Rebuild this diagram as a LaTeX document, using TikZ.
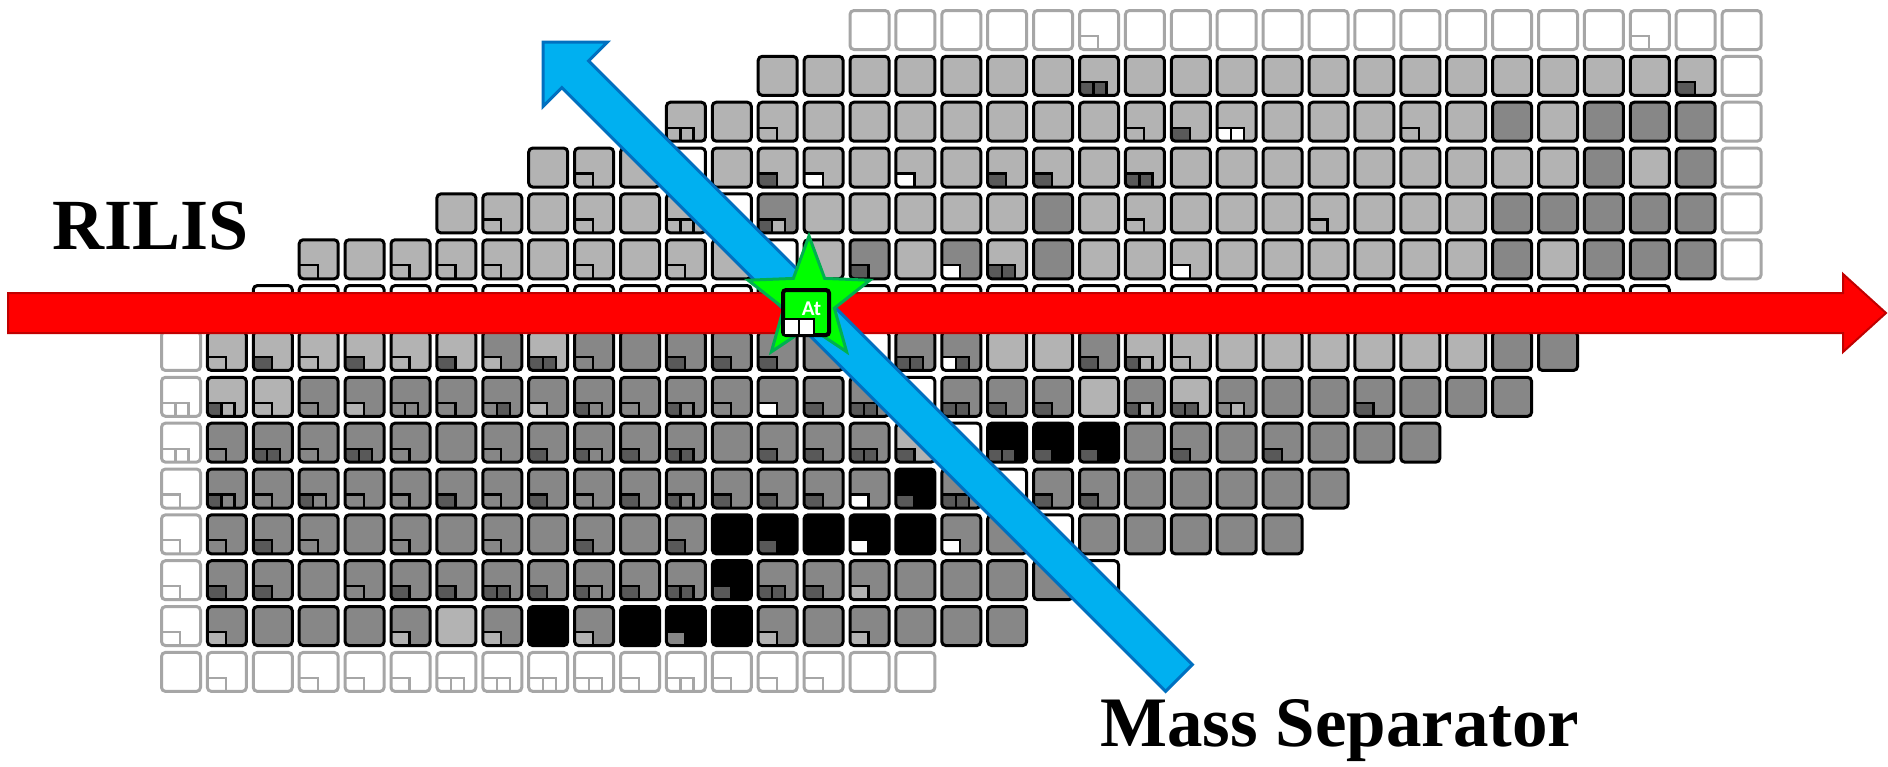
\documentclass[tikz,border=0pt]{standalone}
\usepackage{fontspec}
\setmainfont{Liberation Serif}
\newfontfamily\atfont{Carlito}
\usetikzlibrary{shapes.geometric}
\definecolor{lg}{HTML}{B3B3B3}
\definecolor{mg}{HTML}{878787}
\definecolor{dg}{HTML}{595959}
\definecolor{og}{HTML}{A6A6A6}
\definecolor{rilisred}{HTML}{FF0000}
\definecolor{rilisdark}{HTML}{C00000}
\definecolor{msblue}{HTML}{00B0F0}
\definecolor{msdark}{HTML}{0070C0}
\definecolor{stargreen}{HTML}{00FF00}
\definecolor{stardark}{HTML}{00B050}

\def\fillL{lg}\def\fillM{mg}\def\fillK{black}\def\fillO{white}\def\fillW{white}
\def\lineL{black}\def\lineM{black}\def\lineK{black}\def\lineO{og}\def\lineW{black}
\def\mkd{dg}\def\mkl{lg}\def\mkm{mg}\def\mkw{white}\def\mko{white}

\def\cellparse#1#2#3#4\endparse{\def\cf{#1}\def\cma{#2}\def\cmb{#3}}

\newcommand\drawcellnow[2]{%
  \pgfmathsetmacro\X{160+45.9*#1}%
  \pgfmathsetmacro\Y{9+45.85*#2}%
  \edef\fc{\csname fill\cf\endcsname}%
  \edef\lc{\csname line\cf\endcsname}%
  \fill[fill=\fc, rounded corners=4] (\X+1.5,\Y+1.5) rectangle (\X+40.5,\Y+40.5);
  \if x\cma\else
    \edef\ma{\csname mk\cma\endcsname}%
    \if x\cmb
      \fill[fill=\ma] (\X+2.5,\Y+27) rectangle (\X+20,\Y+40);
      \draw[draw=\lc, line width=2.2] (\X+2.5,\Y+27) -- (\X+20,\Y+27) -- (\X+20,\Y+40);
    \else
      \edef\mb{\csname mk\cmb\endcsname}%
      \fill[fill=\ma] (\X+2.5,\Y+27) rectangle (\X+15.5,\Y+40);
      \fill[fill=\mb] (\X+15.5,\Y+27) rectangle (\X+28.5,\Y+40);
      \draw[draw=\lc, line width=2.2] (\X+2.5,\Y+27) -- (\X+28.5,\Y+27) -- (\X+28.5,\Y+40)
        (\X+15.5,\Y+27) -- (\X+15.5,\Y+40);
    \fi
  \fi
  \draw[draw=\lc, line width=3, rounded corners=4] (\X+1.5,\Y+1.5) rectangle (\X+40.5,\Y+40.5);
}

\newcommand\cellrow[3]{%
  \foreach \cc [count=\ii from #2] in {#3} {%
    \expandafter\cellparse\cc xx\endparse
    \drawcellnow{\ii}{#1}%
  }%
}

\begin{document}
\begin{tikzpicture}[x=1pt,y=-1pt]
\useasboundingbox (0,0) rectangle (1888,766);
\fill[white] (0,0) rectangle (1888,766);

% chart of nuclides
\cellrow{0}{15}{O,O,O,O,O,Oo,O,O,O,O,O,O,O,O,O,O,O,Oo,O,O}
\cellrow{1}{13}{L,L,L,L,L,L,L,Ldd,L,L,L,L,L,L,L,L,L,L,L,L,Ld,O}
\cellrow{2}{11}{Lll,L,Ll,L,L,L,L,L,L,L,Ll,Ld,Lww,L,L,L,Ll,L,M,L,M,M,M,O}
\cellrow{3}{8}{L,Ll,L,W,L,Ld,Lw,L,Lw,L,Ld,Ld,L,Ldd,L,L,L,L,L,L,L,L,L,M,L,M,O}
\cellrow{4}{6}{L,Ll,L,Ll,L,Lll,W,Mdl,L,L,L,L,L,M,L,Ll,L,L,L,Ll,L,L,L,M,M,M,M,M,O}
\cellrow{5}{3}{Ll,L,Ll,Ll,Ll,L,Ll,L,Ll,L,W,L,Md,L,Mw,Ldd,M,L,L,Lw,L,L,L,L,L,L,M,L,M,M,M,O}
\cellrow{6}{2}{W,W,W,W,W,W,W,W,W,W,W,W,W,W,W,W,W,W,W,W,W,W,W,W,W,W,W,W,W,W,W}
\cellrow{7}{0}{O,Ll,Ld,Ll,Ld,Ll,Ld,Ml,Ldd,Mm,M,Md,Md,Md,M,W,Mdd,Mwd,L,L,Md,Ldl,Ll,L,L,L,L,L,L,M,M}
\cellrow{8}{0}{Ooo,Ldl,Ll,Mm,Ml,Mmm,Mm,Mmd,Ml,Mdm,Mm,Mdm,Mm,Mw,Md,Mdd,W,Mdd,Md,Md,L,Mdl,Ldd,Mml,M,M,Md,M,M,M}
\cellrow{9}{0}{Ooo,Mm,Mdd,Mm,Mdd,Mm,M,Mm,Md,Mdm,Md,Mdd,M,Md,Md,Mdd,Ld,W,Kdd,Kd,Kd,M,Md,M,Md,M,M,M}
\cellrow{10}{0}{Oo,Mdm,Mm,Mdm,Mm,Mm,Md,Mm,Md,Mm,Md,Mdm,Md,Md,Md,Mw,Kd,Mdd,W,Md,Md,M,M,M,M,M}
\cellrow{11}{0}{Oo,Mm,Md,Mm,M,Mm,M,Mm,M,Md,M,Md,K,Kd,K,Kw,K,Mw,M,W,M,M,M,M,M}
\cellrow{12}{0}{Oo,Md,Md,M,Mm,Md,Md,Mdd,Md,Mdm,Md,Mdd,Kd,Mdd,Md,Ml,M,M,M,M,W}
\cellrow{13}{0}{Oo,Ml,M,M,M,Ml,L,Ml,K,Ml,K,Km,K,Ml,M,Ml,M,M,M}
\cellrow{14}{0}{O,Oo,O,Oo,Oo,Oo,Ooo,Ooo,Ooo,Ooo,Oo,Ooo,Oo,Oo,Oo,O,O}

% RILIS arrow
\draw[fill=rilisred, draw=rilisdark, line width=2]
  (8,293) -- (1843,293) -- (1843,274) -- (1886,313) -- (1843,352) -- (1843,333) -- (8,333) -- cycle;

% mass separator arrow
\draw[fill=msblue, draw=msdark, line width=3, line join=miter]
  (1192.4,664.6) -- (588.6,60.8) -- (607.4,42) -- (543,42) -- (543,106.4)
  -- (561.8,87.6) -- (1165.6,691.4) -- cycle;

% star and At
\node[star, star points=5, star point ratio=2.4, minimum size=128, inner sep=0,
      fill=stargreen, draw=stardark, line width=3] (star) at (809,300) {};
\draw[fill=stargreen, draw=black, line width=4, rounded corners=3] (783,290) rectangle (829,335);
\draw[fill=white, draw=black, line width=2.5] (784,319) rectangle (799,335) (799,319) rectangle (814,335);
\node[text=white, inner sep=0, font=\atfont\bfseries\fontsize{21}{21}\selectfont] (at) at (811.5,309) {At};

% labels
\node[anchor=base west, inner sep=0, font=\bfseries\fontsize{72}{72}\selectfont] (rilis) at (52,249) {RILIS};
\node[anchor=base west, inner sep=0, font=\bfseries\fontsize{71}{71}\selectfont] (ms) at (1100,746) {Mass Separator};
\end{tikzpicture}
\end{document}
